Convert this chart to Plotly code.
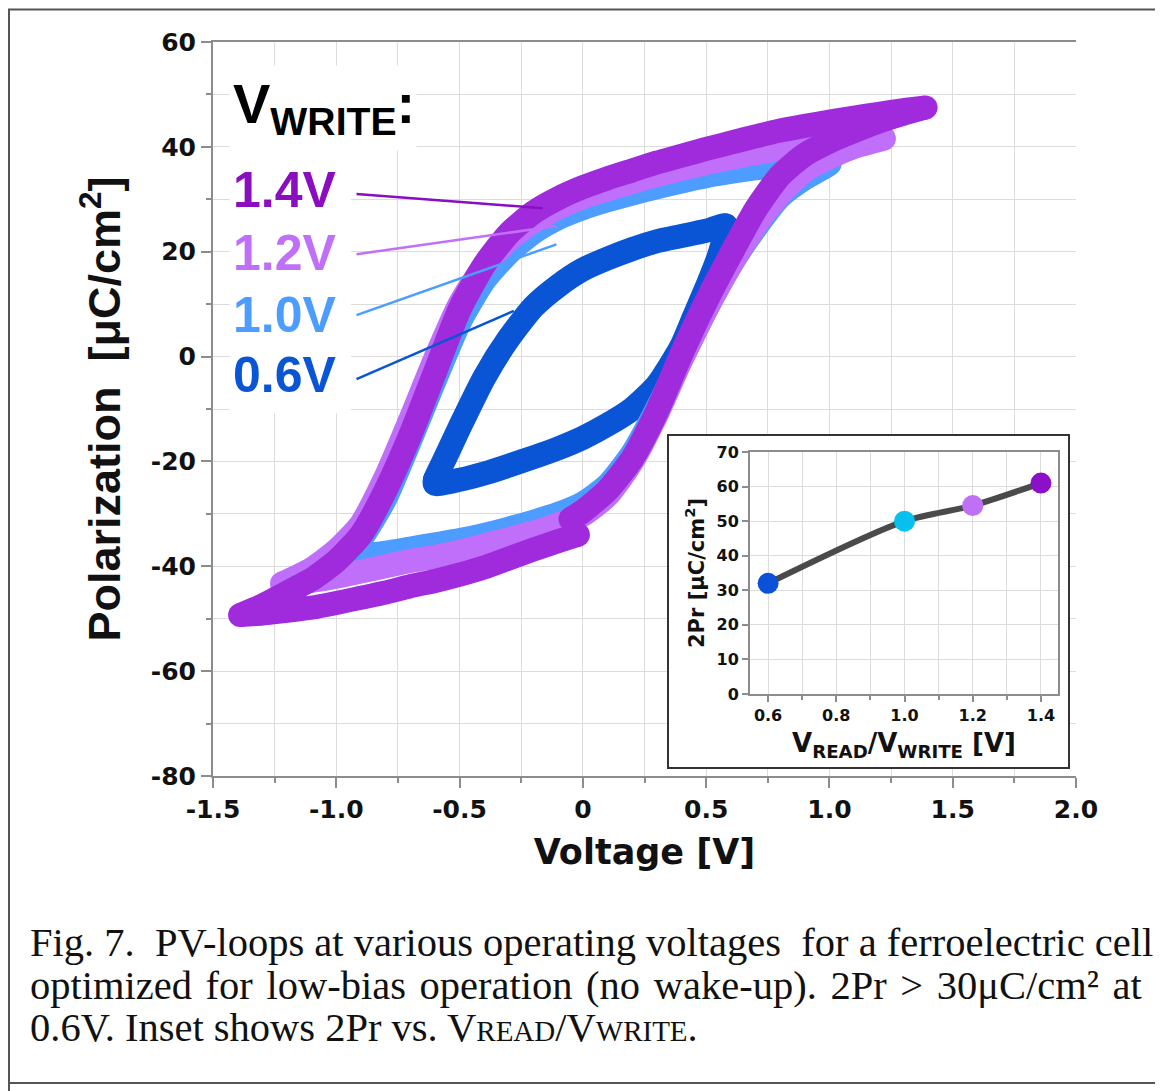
import plotly.graph_objects as go

# ---------------- data ----------------
# 1.4 V loop
v14_up = [1.39, 1.3, 1.2, 1.1, 1.0, 0.9, 0.8, 0.7, 0.6, 0.5, 0.4, 0.3, 0.2, 0.1, 0.0, -0.1, -0.2, -0.3, -0.4, -0.5, -0.6, -0.7, -0.8, -0.9, -1.0, -1.1, -1.2, -1.3, -1.39]
p14_up = [47.5, 47.0, 46.3, 45.6, 44.8, 44.0, 43.1, 42.0, 40.8, 39.6, 38.3, 37.0, 35.5, 34.0, 32.3, 30.2, 27.5, 23.5, 17.5, 9.0, -3.0, -15.0, -25.5, -34.0, -39.0, -42.5, -45.0, -47.5, -49.3]
v14_lo = [-1.39, -1.3, -1.2, -1.1, -1.0, -0.9, -0.8, -0.7, -0.6, -0.5, -0.4, -0.3, -0.2, -0.1, -0.02]
p14_lo = [-49.3, -49.0, -48.5, -47.9, -47.0, -46.0, -45.0, -43.8, -42.8, -41.6, -40.2, -38.5, -36.8, -35.2, -34.0]
v14_rise = [-0.05, 0.0, 0.1, 0.2, 0.3, 0.4, 0.5, 0.6, 0.7, 0.8, 0.9, 1.0, 1.1, 1.2, 1.3, 1.39]
p14_rise = [-31.0, -29.5, -25.5, -19.5, -10.5, 0.5, 10.5, 19.5, 28.0, 34.5, 38.5, 41.0, 43.0, 44.8, 46.3, 47.5]

# 1.2 V loop
v12_up = [1.22, 1.1, 1.0, 0.9, 0.8, 0.7, 0.6, 0.5, 0.4, 0.3, 0.2, 0.1, 0.0, -0.1, -0.2, -0.3, -0.4, -0.5, -0.6, -0.7, -0.8, -0.9, -1.0, -1.1, -1.22]
p12_up = [41.6, 41.3, 40.8, 40.2, 39.6, 38.8, 37.9, 36.9, 35.8, 34.6, 33.3, 31.9, 30.4, 28.4, 25.8, 22.3, 17.3, 10.0, -0.5, -12.0, -23.0, -32.0, -37.0, -40.5, -43.3]
v12_lo = [-1.22, -1.1, -1.0, -0.9, -0.8, -0.7, -0.6, -0.5, -0.4, -0.3, -0.2, -0.1, 0.0, 0.1, 0.2, 0.3, 0.4, 0.5, 0.6, 0.7, 0.8, 0.9, 1.0, 1.1, 1.22]
p12_lo = [-43.3, -42.8, -42.0, -41.0, -40.0, -39.0, -38.2, -37.2, -36.0, -34.8, -33.5, -32.0, -30.2, -26.5, -20.0, -11.0, -0.5, 9.0, 17.5, 25.0, 31.0, 35.5, 38.0, 40.0, 41.6]

# 1.0 V loop
v10_up = [1.0, 0.9, 0.8, 0.7, 0.6, 0.5, 0.4, 0.3, 0.2, 0.1, 0.0, -0.1, -0.2, -0.3, -0.4, -0.5, -0.6, -0.7, -0.8, -0.9, -0.97]
p10_up = [36.8, 36.6, 36.3, 35.9, 35.2, 34.4, 33.4, 32.3, 31.1, 29.8, 28.3, 26.4, 23.7, 19.8, 14.5, 6.5, -4.5, -16.0, -27.0, -34.8, -38.5]
v10_lo = [-0.97, -0.9, -0.8, -0.7, -0.6, -0.5, -0.4, -0.3, -0.2, -0.1, 0.0, 0.1, 0.2, 0.3, 0.4, 0.5, 0.6, 0.7, 0.8, 0.9, 1.0]
p10_lo = [-38.5, -38.0, -37.4, -36.6, -35.8, -35.0, -34.0, -32.8, -31.5, -30.0, -28.0, -24.5, -18.5, -10.0, -0.5, 9.0, 17.5, 24.5, 30.5, 34.0, 36.8]

# 0.6 V loop
v06_up = [0.58, 0.5, 0.4, 0.3, 0.2, 0.1, 0.0, -0.1, -0.2, -0.3, -0.4, -0.5, -0.56, -0.6]
p06_up = [25.0, 24.0, 23.0, 22.0, 20.5, 18.7, 16.6, 13.5, 9.5, 3.5, -4.0, -13.5, -19.5, -23.5]
v06_lo = [-0.6, -0.5, -0.4, -0.3, -0.2, -0.1, 0.0, 0.1, 0.2, 0.3, 0.4, 0.45, 0.5, 0.55, 0.58]
p06_lo = [-24.3, -23.5, -22.3, -20.8, -19.2, -17.5, -15.5, -13.0, -10.0, -5.5, 2.0, 7.5, 13.0, 19.0, 25.0]

# Inset: 2Pr vs V
inset_v = [0.6, 1.0, 1.2, 1.4]
inset_2pr = [32, 50, 54.5, 61]

x_tickvals = [-1.5, -1.0, -0.5, 0, 0.5, 1.0, 1.5, 2.0]
x_ticktext = ["-1.5", "-1.0", "-0.5", "0", "0.5", "1.0", "1.5", "2.0"]
y_tickvals = [-80, -60, -40, -20, 0, 20, 40, 60]
y_ticktext = ["-80", "-60", "-40", "-20", "0", "20", "40", "60"]
inset_xtickvals = [0.6, 0.8, 1.0, 1.2, 1.4]
inset_xticktext = ["0.6", "0.8", "1.0", "1.2", "1.4"]
inset_ytickvals = [0, 10, 20, 30, 40, 50, 60, 70]

labels = ["1.4V", "1.2V", "1.0V", "0.6V"]
label_colors = ["#8a0dc0", "#c070f8", "#4c9dff", "#0a55d6"]
label_pos_y = [31.7, 19.8, 8.0, -3.5]
leader_start = [(-0.918, 31.0), (-0.918, 19.5), (-0.918, 7.9), (-0.918, -4.3)]
leader_end = [(-0.164, 28.3), (-0.107, 24.9), (-0.107, 21.4), (-0.28, 8.7)]

loop_colors = {"0.6": "#0a55d6", "1.0": "#4c9dff", "1.2": "#bf6ffa", "1.4": "#a02bdc"}
inset_colors = ["#0a50d8", "#08c0f0", "#bf70f5", "#8c10c8"]

# ---------------- figure ----------------
fig = go.Figure()

LW = 24

def loop_traces(vx, py_, color, name, ends_x, ends_y):
    line = go.Scatter(x=vx, y=py_, mode="lines", name=name,
                      line=dict(color=color, width=LW, shape="spline", smoothing=0.6),
                      connectgaps=False, showlegend=False, hoverinfo="skip",
                      xaxis="x", yaxis="y")
    caps = go.Scatter(x=ends_x, y=ends_y, mode="markers", name=name,
                      marker=dict(color=color, size=LW, line=dict(width=0)),
                      showlegend=False, hoverinfo="skip", xaxis="x", yaxis="y")
    return [line, caps]

for tr in loop_traces(v06_up + v06_lo, p06_up + p06_lo, loop_colors["0.6"], "0.6V",
                      [v06_up[0], v06_up[-1]], [p06_up[0], p06_up[-1]]):
    fig.add_trace(tr)
for tr in loop_traces(v10_up + v10_lo, p10_up + p10_lo, loop_colors["1.0"], "1.0V",
                      [v10_up[0], v10_up[-1]], [p10_up[0], p10_up[-1]]):
    fig.add_trace(tr)
for tr in loop_traces(v12_up + v12_lo, p12_up + p12_lo, loop_colors["1.2"], "1.2V",
                      [v12_up[0], v12_up[-1]], [p12_up[0], p12_up[-1]]):
    fig.add_trace(tr)
for tr in loop_traces(v14_up + v14_lo + [None] + v14_rise,
                      p14_up + p14_lo + [None] + p14_rise, loop_colors["1.4"], "1.4V",
                      [v14_up[0], v14_up[-1], v14_lo[-1], v14_rise[0]],
                      [p14_up[0], p14_up[-1], p14_lo[-1], p14_rise[0]]):
    fig.add_trace(tr)

# dummy subplot giving the inset frame a white background
fig.add_trace(go.Scatter(x=[None], y=[None], xaxis="x2", yaxis="y2", showlegend=False, hoverinfo="skip"))

# inset
fig.add_trace(go.Scatter(x=inset_v, y=inset_2pr, mode="lines", xaxis="x3", yaxis="y3",
                         line=dict(color="#4a4a4a", width=6, shape="spline", smoothing=0.8),
                         showlegend=False, hoverinfo="skip"))
fig.add_trace(go.Scatter(x=inset_v, y=inset_2pr, mode="markers", xaxis="x3", yaxis="y3",
                         marker=dict(color=inset_colors, size=21, line=dict(width=0)),
                         showlegend=False, hoverinfo="skip"))

# geometry: target-image pixels are converted with an 8px page-margin offset
OFF = 8
W, H = 1163 - OFF, 1091 - OFF
L, T = 213 - OFF, 42 - OFF
R = W - (1076 - OFF)
B = H - (776 - OFF)
PW, PH = W - L - R, H - T - B

def px(xp):
    return (xp - OFF - L) / PW

def py(yp):
    return (H - B - (yp - OFF)) / PH

tick_font = dict(family="DejaVu Sans", size=25, color="#111111", weight="bold")
inset_tick_font = dict(family="DejaVu Sans", size=16, color="#111111", weight="bold")
grid_c = "#dcdcdc"
axis_c = "#8c8c8c"

fig.update_layout(
    width=W, height=H, autosize=False,
    margin=dict(l=L, r=R, t=T, b=B, pad=0),
    paper_bgcolor="white", plot_bgcolor="white",
    showlegend=False,
    xaxis=dict(domain=[0, 1], range=[-1.5, 2.0], tickmode="array", tickvals=x_tickvals, ticktext=x_ticktext,
               showgrid=True, gridcolor=grid_c, gridwidth=1, zeroline=False,
               showline=True, linecolor=axis_c, linewidth=2, mirror=True,
               ticks="outside", ticklen=10, tickwidth=2, tickcolor=axis_c, tickfont=tick_font,
               minor=dict(tickmode="linear", tick0=0, dtick=0.25, showgrid=True, gridcolor=grid_c,
                          ticks="outside", ticklen=5, tickwidth=2, tickcolor=axis_c),
               title=dict(text="Voltage [V]", font=dict(family="DejaVu Sans", size=35, color="#111111", weight="bold"),
                          standoff=16),
               anchor="y"),
    yaxis=dict(domain=[0, 1], range=[-80, 60], tickmode="array", tickvals=y_tickvals, ticktext=y_ticktext,
               showgrid=True, gridcolor=grid_c, gridwidth=1, zeroline=False,
               showline=True, linecolor=axis_c, linewidth=2, mirror=False,
               ticks="outside", ticklen=10, tickwidth=2, tickcolor=axis_c, tickfont=tick_font,
               minor=dict(tickmode="linear", tick0=0, dtick=10, showgrid=True, gridcolor=grid_c,
                          ticks="outside", ticklen=5, tickwidth=2, tickcolor=axis_c),
               title=dict(text="Polarization\u00a0\u00a0[μC/cm<sup>2</sup>]",
                          font=dict(family="Liberation Sans", size=45, color="#111111", weight="bold"),
                          standoff=16),
               anchor="x"),
    xaxis2=dict(domain=[px(668), px(1069)], range=[0, 1], visible=False, anchor="y2", fixedrange=True),
    yaxis2=dict(domain=[py(768), py(435)], range=[0, 1], visible=False, anchor="x2", fixedrange=True),
    xaxis3=dict(domain=[px(750), px(1058)], range=[0.547, 1.45], tickmode="array",
                tickvals=inset_xtickvals, ticktext=inset_xticktext,
                showgrid=True, gridcolor=grid_c, zeroline=False,
                showline=True, linecolor=axis_c, linewidth=2, mirror=True,
                ticks="outside", ticklen=6, tickwidth=1.5, tickcolor=axis_c, tickfont=inset_tick_font,
                minor=dict(tickmode="linear", tick0=0, dtick=0.1, showgrid=True, gridcolor=grid_c,
                           ticks="outside", ticklen=4, tickcolor=axis_c),
                title=dict(text="V<sub>READ</sub>/V<sub>WRITE</sub> [V]",
                           font=dict(family="DejaVu Sans", size=26, color="#111111", weight="bold"), standoff=10),
                anchor="y3"),
    yaxis3=dict(domain=[py(694), py(452)], range=[0, 70], tickmode="array", tickvals=inset_ytickvals,
                showgrid=True, gridcolor=grid_c, zeroline=False,
                showline=True, linecolor=axis_c, linewidth=2, mirror=True,
                ticks="outside", ticklen=6, tickwidth=1.5, tickcolor=axis_c, tickfont=inset_tick_font,
                title=dict(text="2Pr [μC/cm<sup>2</sup>]",
                           font=dict(family="DejaVu Sans", size=21, color="#111111", weight="bold"), standoff=6),
                anchor="x3"),
)

shapes = []
# white boxes behind the label block
shapes.append(dict(type="rect", xref="x", yref="y", x0=-1.432, x1=-0.675, y0=39.3, y1=55.5,
                   fillcolor="white", line=dict(width=0), layer="between"))
shapes.append(dict(type="rect", xref="x", yref="y", x0=-1.432, x1=-0.94, y0=-10.8, y1=39.3,
                   fillcolor="white", line=dict(width=0), layer="between"))
# leader lines
for (x0, y0), (x1, y1), c in zip(leader_start, leader_end, label_colors):
    shapes.append(dict(type="line", xref="x", yref="y", x0=x0, y0=y0, x1=x1, y1=y1,
                       line=dict(color=c, width=2.5), layer="above"))
# inset frame
shapes.append(dict(type="rect", xref="paper", yref="paper", x0=px(668), x1=px(1069), y0=py(768), y1=py(435),
                   line=dict(color="#333333", width=2), fillcolor="rgba(0,0,0,0)", layer="above"))
# outer figure frame (top edge kept just inside the drawable area)
frame = dict(color="#555555", width=2)
shapes.append(dict(type="line", xref="paper", yref="paper", x0=px(8), x1=px(1157), y0=py(9.5), y1=py(9.5),
                   line=frame, layer="above"))
shapes.append(dict(type="line", xref="paper", yref="paper", x0=px(9), x1=px(9), y0=py(9.5), y1=py(1091),
                   line=frame, layer="above"))
shapes.append(dict(type="line", xref="paper", yref="paper", x0=px(1157), x1=px(1157), y0=py(9.5), y1=py(1083),
                   line=frame, layer="above"))
shapes.append(dict(type="line", xref="paper", yref="paper", x0=px(8), x1=px(1163), y0=py(1083), y1=py(1083),
                   line=frame, layer="above"))
fig.update_layout(shapes=shapes)

ann = []
ann.append(dict(text="V<sub>WRITE</sub>:", x=-1.425, y=47.5, xref="x", yref="y", xanchor="left", yanchor="middle",
                showarrow=False, font=dict(family="Liberation Sans", size=56, color="#000000", weight="bold")))
for t, c, yv in zip(labels, label_colors, label_pos_y):
    ann.append(dict(text=t, x=-1.425, y=yv, xref="x", yref="y", xanchor="left", yanchor="middle",
                    showarrow=False, font=dict(family="Liberation Sans", size=50, color=c, weight="bold")))

cap_font = dict(family="Liberation Serif", size=40.5, color="#111111")
caption = [
    "Fig. 7.\u00a0 PV-loops at various operating voltages\u00a0 for a ferroelectric cell",
    "<span style='word-spacing:3.5px'>optimized for low-bias operation (no wake-up). 2Pr &gt; 30μC/cm² at</span>",
    "0.6V. Inset shows 2Pr vs. V<span style='font-size:29px'>READ</span>/V<span style='font-size:29px'>WRITE</span>.",
]
cap_y = [942, 985, 1027]
for t, yy in zip(caption, cap_y):
    ann.append(dict(text=t, x=px(28), y=py(yy), xref="paper", yref="paper", xanchor="left", yanchor="middle",
                    showarrow=False, font=cap_font))
fig.update_layout(annotations=ann)

fig.write_html("out.html")
